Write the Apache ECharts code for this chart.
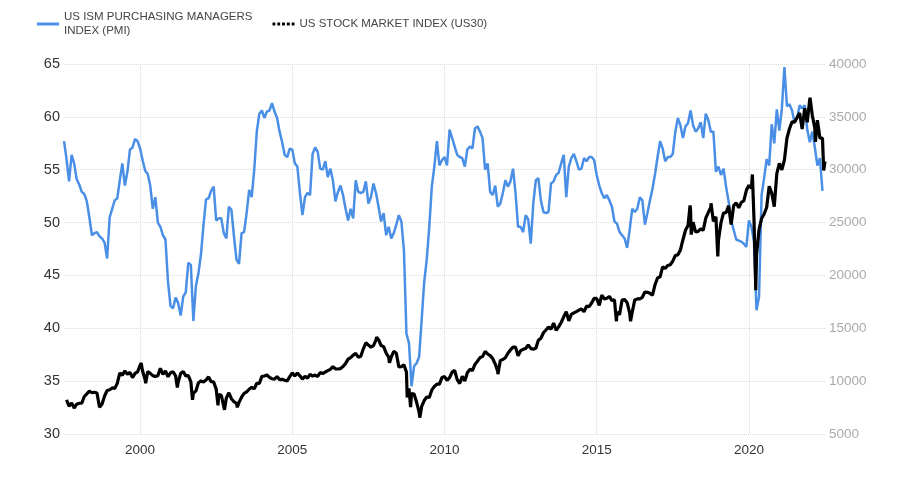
<!DOCTYPE html>
<html>
<head>
<meta charset="utf-8">
<script src="https://cdn.jsdelivr.net/npm/echarts@6/dist/echarts.min.js"></script>
<style>
  html, body { margin: 0; padding: 0; background: #fff; }
  #chart { width: 907px; height: 490px; }
</style>
</head>
<body>
<div id="chart"></div>
<script>
const pmiName = 'US ISM PURCHASING MANAGERS\nINDEX (PMI)';
const us30Name = 'US STOCK MARKET INDEX (US30)';

// monthly PMI, Jul 1997 .. Jun 2022
const pmiStart = 1997.5;
const pmiMonthly = [
  57.7, 56.0, 53.9, 56.4, 55.6, 54.1,
  53.6, 52.9, 52.7, 52.0, 50.5, 48.8, 49.0, 49.1, 48.7, 48.5, 48.1, 46.6,
  50.5, 51.3, 52.1, 52.3, 54.0, 55.6, 53.5, 54.8, 56.9, 57.1, 57.9, 57.7,
  57.0, 55.9, 54.9, 54.6, 53.5, 51.3, 52.4, 50.0, 49.6, 48.8, 48.4, 44.4,
  42.1, 41.9, 42.9, 42.4, 41.2, 43.0, 43.4, 46.2, 46.0, 40.7, 44.0, 45.2,
  47.0, 49.8, 52.2, 52.3, 53.0, 53.4, 50.2, 50.4, 50.4, 49.0, 48.5, 51.5,
  51.2, 48.7, 46.5, 46.1, 49.0, 49.1, 50.9, 53.1, 52.4, 55.0, 58.6, 60.3,
  60.6, 59.9, 60.5, 60.6, 61.3, 60.5, 59.9, 58.6, 57.6, 56.4, 56.2, 57.0,
  56.9, 55.6, 55.3, 52.8, 50.7, 52.4, 52.8, 52.6, 56.5, 57.1, 56.7, 55.1,
  55.0, 55.8, 54.3, 55.1, 54.0, 52.0, 52.9, 53.5, 52.6, 51.3, 50.2, 51.3,
  50.4, 54.0, 52.9, 52.8, 52.9, 53.9, 51.8, 52.4, 53.7, 52.8, 51.5, 50.1,
  50.9, 48.8, 49.6, 48.5, 49.0, 49.8, 50.7, 50.1, 47.4, 39.5, 38.6, 34.5,
  36.4, 36.7, 37.3, 40.8, 44.4, 46.5, 49.6, 53.4, 55.3, 57.7, 55.4, 55.9,
  56.2, 55.4, 58.8, 58.0, 57.2, 56.4, 56.2, 56.1, 55.3, 56.9, 57.2, 57.0,
  58.9, 59.1, 58.6, 58.0, 55.0, 55.6, 52.9, 52.6, 53.5, 51.5, 51.8, 52.8,
  54.0, 53.4, 53.9, 55.1, 52.8, 49.6, 49.6, 49.1, 50.7, 50.3, 48.0, 51.8,
  54.0, 54.2, 52.1, 51.0, 50.9, 51.0, 53.7, 53.9, 54.5, 54.7, 55.6, 56.4,
  52.4, 55.3, 56.1, 56.5, 55.8, 55.0, 55.1, 56.1, 55.8, 56.2, 56.2, 55.9,
  54.5, 53.5, 52.8, 52.3, 52.6, 52.1, 51.5, 50.1, 49.9, 49.1, 48.8, 48.5,
  47.6, 49.3, 51.3, 51.0, 51.3, 52.4, 52.1, 49.8, 50.9, 52.1, 53.2, 54.6,
  56.2, 57.7, 57.0, 55.8, 56.2, 56.2, 56.5, 58.6, 59.9, 59.2, 58.0, 59.1,
  59.4, 60.6, 59.2, 58.6, 58.9, 59.5, 58.0, 60.3, 59.7, 58.6, 58.6, 54.8,
  55.3, 54.5, 55.1, 53.4, 52.0, 50.2, 49.3, 48.4, 48.3, 48.2, 48.0, 47.7,
  50.2, 49.6, 48.2, 41.7, 43.0, 52.6, 54.2, 56.0, 55.4, 59.3, 57.5, 60.7,
  58.7, 60.8, 64.7, 61.0, 61.2, 60.6, 59.5, 59.9, 61.1, 60.8, 61.1, 58.8,
  57.6, 58.6, 57.1, 55.4, 56.1, 53.0
];

// US30 month-end closes, Jul 1997 .. Jun 2022
const us30Start = 1997.5;
const us30MonthEnd = [
  8223, 7622, 7945, 7442, 7823, 7908,
  7907, 8546, 8800, 9063, 8900, 8952, 8883, 7539, 7843, 8592, 9117, 9181,
  9359, 9307, 9786, 10789, 10560, 10971, 10655, 10829, 10337, 10729, 10878, 11497,
  10941, 10128, 10922, 10734, 10522, 10448, 10522, 11215, 10651, 10971, 10415, 10787,
  10887, 10495, 9879, 10735, 10912, 10502, 10523, 9950, 8848, 9075, 9852, 10022,
  9920, 10106, 10404, 9946, 9925, 9243, 8737, 8664, 7592, 8397, 8896, 8342,
  8054, 7891, 7992, 8480, 8850, 8985, 9234, 9416, 9275, 9801, 9782, 10454,
  10488, 10584, 10358, 10226, 10188, 10435, 10140, 10174, 10080, 10027, 10428, 10783,
  10490, 10766, 10504, 10193, 10467, 10275, 10641, 10482, 10569, 10440, 10806, 10718,
  10865, 10993, 11109, 11367, 11168, 11150, 11186, 11381, 11679, 12081, 12222, 12463,
  12622, 12269, 12354, 13063, 13628, 13409, 13212, 13358, 13896, 13930, 13372, 13265,
  12650, 12266, 12263, 12820, 12638, 11350, 11378, 11544, 10851, 9325, 8829, 8776,
  8001, 7063, 7609, 8168, 8500, 8447, 9172, 9496, 9712, 9713, 10345, 10428,
  10067, 10325, 10857, 11009, 10137, 9774, 10466, 10015, 10788, 11118, 11006, 11578,
  11892, 12226, 12320, 12811, 12570, 12414, 12143, 11614, 10913, 11955, 12046, 12218,
  12633, 12952, 13212, 13214, 12393, 12880, 13009, 13091, 13437, 13096, 13026, 13104,
  13861, 14054, 14579, 14840, 15116, 14910, 15500, 14810, 15130, 15546, 16086, 16577,
  15699, 16322, 16458, 16581, 16717, 16827, 16563, 17098, 17043, 17391, 17828, 17823,
  17165, 18133, 17776, 17841, 18011, 17620, 17690, 16528, 16285, 17664, 17720, 17425,
  16466, 16517, 17685, 17774, 17787, 17930, 18432, 18401, 18308, 18142, 19124, 19763,
  19864, 20812, 20663, 20940, 21009, 21350, 21891, 21948, 22405, 23377, 24272, 24719,
  26149, 25029, 24103, 24163, 24416, 24271, 25415, 25965, 26458, 25116, 25538, 23327,
  24999, 25916, 25929, 26593, 24815, 26600, 26864, 26403, 26917, 27046, 28051, 28538,
  28256, 25409, 21917, 24346, 25383, 25813, 26428, 28430, 27782, 26502, 29639, 30606,
  29983, 30932, 32982, 33875, 34529, 34503, 34935, 35361, 33844, 35820, 34484, 36338,
  35132, 33893, 34678, 32977, 32990, 30775
];

// intra-month highs and lows
const us30Swings = [
  ['1998-10-08', 7731], ['2000-01-14', 11723], ['2000-03-07', 9796],
  ['2001-03-22', 9389], ['2001-09-21', 8236], ['2002-07-23', 7702],
  ['2002-10-09', 7286], ['2003-03-11', 7524], ['2007-10-09', 14165],
  ['2008-03-10', 11740], ['2008-10-10', 8451], ['2008-11-20', 7552],
  ['2009-03-09', 6547], ['2010-07-02', 9686], ['2011-10-03', 10655],
  ['2015-08-25', 15666], ['2016-02-11', 15660], ['2018-01-26', 26617],
  ['2018-02-08', 23860], ['2018-10-03', 26828], ['2018-12-24', 21792],
  ['2020-02-12', 29551], ['2020-03-23', 18592], ['2021-12-29', 36488],
  ['2022-01-04', 36800], ['2022-03-08', 32632], ['2022-06-16', 29927]
];

const yearTicks = [2000, 2005, 2010, 2015, 2020];

function dayToYear(s) {
  const [y, m, d] = s.split('-').map(Number);
  const days = new Date(y, m, 0).getDate();
  return y + (m - 1) / 12 + (d - 1) / (days * 12);
}

const pmiData = pmiMonthly.map((v, i) => [pmiStart + i / 12, v]);
const us30Data = us30MonthEnd.map((v, i) => [us30Start + (i + 1) / 12, v])
  .concat(us30Swings.map(p => [dayToYear(p[0]), p[1]]))
  .sort((a, b) => a[0] - b[0]);

const chart = echarts.init(document.getElementById('chart'));

const gridLine = { show: true, lineStyle: { color: '#dcdcdc', type: 'dotted', width: 1 } };

// legend icons: plain line and a row of dots
const dotsIcon = 'path://M0,0h3v3h-3z M5,0h3v3h-3z M10,0h3v3h-3z M15,0h3v3h-3z M20,0h3v3h-3z';

chart.setOption({
  animation: false,
  textStyle: { fontFamily: 'Liberation Sans, Arial, sans-serif' },
  legend: {
    left: 37,
    top: 10,
    padding: 0,
    itemGap: 20,
    itemWidth: 22,
    itemHeight: 3,
    textStyle: { fontSize: 11.5, color: '#444', lineHeight: 14 },
    data: [
      { name: pmiName, icon: 'rect' },
      { name: us30Name, icon: dotsIcon }
    ]
  },
  grid: { left: 64, right: 82, top: 64, bottom: 56 },
  xAxis: {
    type: 'value',
    min: 1997.5,
    max: 2022.5,
    axisLine: { show: false },
    axisTick: { show: false, customValues: yearTicks },
    axisLabel: {
      customValues: yearTicks,
      formatter: v => String(v),
      color: '#333',
      fontSize: 13.5,
      margin: 9
    },
    splitLine: gridLine
  },
  yAxis: [
    {
      type: 'value',
      min: 30,
      max: 65,
      interval: 5,
      axisLine: { show: false },
      axisTick: { show: false },
      axisLabel: { color: '#333', fontSize: 14.5, margin: 4 },
      splitLine: gridLine
    },
    {
      type: 'value',
      min: 5000,
      max: 40000,
      interval: 5000,
      axisLine: { show: false },
      axisTick: { show: false },
      axisLabel: { color: '#aaa', fontSize: 13.5, margin: 4, formatter: v => String(v) },
      splitLine: { show: false }
    }
  ],
  series: [
    {
      name: pmiName,
      type: 'line',
      yAxisIndex: 0,
      data: pmiData,
      symbol: 'none',
      lineStyle: { color: '#4a8fe6', width: 2.5 },
      itemStyle: { color: '#4a8fe6' }
    },
    {
      name: us30Name,
      type: 'line',
      yAxisIndex: 1,
      data: us30Data,
      symbol: 'none',
      lineStyle: { color: '#000', width: 3.2 },
      itemStyle: { color: '#000' }
    }
  ]
});
</script>
</body>
</html>
